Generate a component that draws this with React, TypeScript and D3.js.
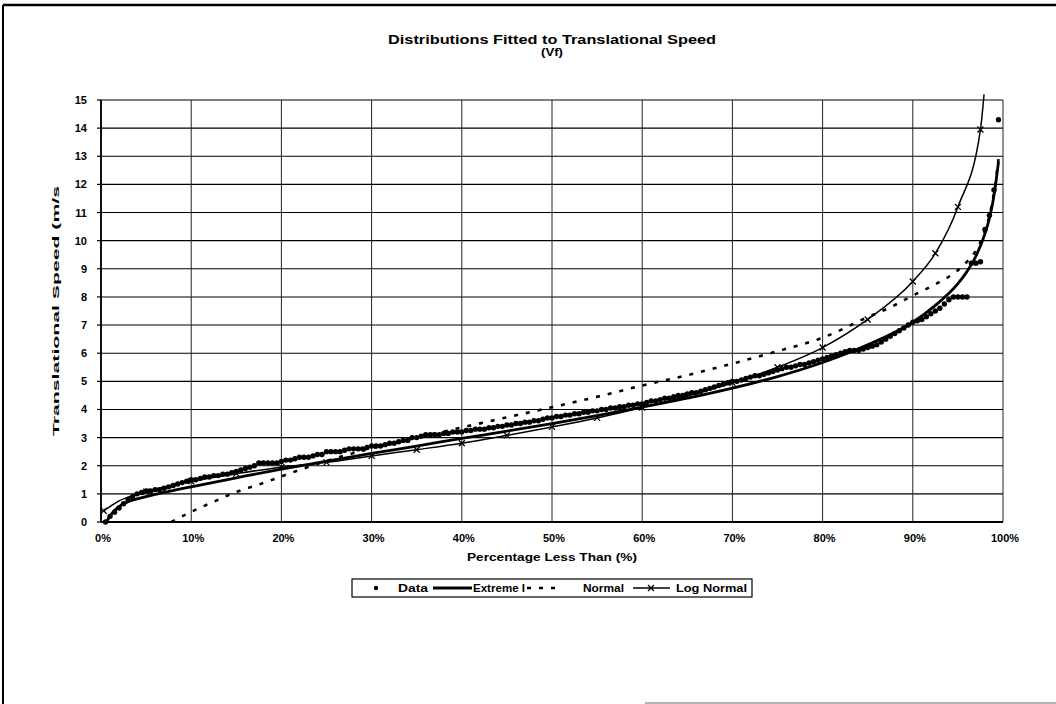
import React from "react";
import * as d3 from "d3";

// Empirical distribution of translational speed: [percentage less than, speed m/s]
const observed: [number, number][] = [
  [0.5, 0.0], [1, 0.2], [1.5, 0.35], [2, 0.5], [2.5, 0.65], [3, 0.8], [3.5, 0.9], [4, 1.0], [4.5, 1.05], [5, 1.1],
  [5.5, 1.1], [6, 1.15], [6.5, 1.15], [7, 1.2], [7.5, 1.25], [8, 1.3], [8.5, 1.35], [9, 1.4], [9.5, 1.45], [10, 1.5],
  [10.5, 1.5], [11, 1.55], [11.5, 1.6], [12, 1.6], [12.5, 1.65], [13, 1.65], [13.5, 1.7], [14, 1.7], [14.5, 1.75], [15, 1.8],
  [15.5, 1.85], [16, 1.9], [16.5, 1.95], [17, 2.0], [17.5, 2.1], [18, 2.1], [18.5, 2.1], [19, 2.1], [19.5, 2.1], [20, 2.15],
  [20.5, 2.2], [21, 2.2], [21.5, 2.25], [22, 2.3], [22.5, 2.3], [23, 2.3], [23.5, 2.35], [24, 2.4], [24.5, 2.4], [25, 2.5],
  [25.5, 2.5], [26, 2.5], [26.5, 2.5], [27, 2.55], [27.5, 2.6], [28, 2.6], [28.5, 2.6], [29, 2.6], [29.5, 2.65], [30, 2.7],
  [30.5, 2.7], [31, 2.7], [31.5, 2.75], [32, 2.8], [32.5, 2.8], [33, 2.85], [33.5, 2.9], [34, 2.9], [34.5, 3.0], [35, 3.0],
  [35.5, 3.05], [36, 3.1], [36.5, 3.1], [37, 3.1], [37.5, 3.1], [38, 3.15], [38.5, 3.15], [39, 3.2], [39.5, 3.2], [40, 3.2],
  [40.5, 3.25], [41, 3.25], [41.5, 3.3], [42, 3.3], [42.5, 3.3], [43, 3.35], [43.5, 3.35], [44, 3.4], [44.5, 3.4], [45, 3.45],
  [45.5, 3.45], [46, 3.5], [46.5, 3.5], [47, 3.55], [47.5, 3.55], [48, 3.6], [48.5, 3.6], [49, 3.65], [49.5, 3.7], [50, 3.7],
  [50.5, 3.75], [51, 3.75], [51.5, 3.8], [52, 3.8], [52.5, 3.85], [53, 3.85], [53.5, 3.9], [54, 3.9], [54.5, 3.95], [55, 3.95],
  [55.5, 4.0], [56, 4.0], [56.5, 4.05], [57, 4.05], [57.5, 4.1], [58, 4.1], [58.5, 4.15], [59, 4.15], [59.5, 4.2], [60, 4.2],
  [60.5, 4.25], [61, 4.3], [61.5, 4.3], [62, 4.35], [62.5, 4.4], [63, 4.4], [63.5, 4.45], [64, 4.5], [64.5, 4.5], [65, 4.55],
  [65.5, 4.6], [66, 4.6], [66.5, 4.65], [67, 4.7], [67.5, 4.75], [68, 4.8], [68.5, 4.85], [69, 4.9], [69.5, 4.95], [70, 5.0],
  [70.5, 5.0], [71, 5.05], [71.5, 5.1], [72, 5.15], [72.5, 5.2], [73, 5.2], [73.5, 5.25], [74, 5.3], [74.5, 5.35], [75, 5.4],
  [75.5, 5.45], [76, 5.5], [76.5, 5.5], [77, 5.55], [77.5, 5.6], [78, 5.6], [78.5, 5.65], [79, 5.7], [79.5, 5.75], [80, 5.8],
  [80.5, 5.85], [81, 5.9], [81.5, 5.95], [82, 6.0], [82.5, 6.05], [83, 6.1], [83.5, 6.1], [84, 6.1], [84.5, 6.15], [85, 6.2],
  [85.5, 6.25], [86, 6.3], [86.5, 6.4], [87, 6.5], [87.5, 6.6], [88, 6.7], [88.5, 6.8], [89, 6.9], [89.5, 7.0], [90, 7.1],
  [90.5, 7.15], [91, 7.2], [91.5, 7.3], [92, 7.4], [92.5, 7.5], [93, 7.6], [93.5, 7.75], [94, 7.9], [94.5, 8.0], [95, 8.0],
  [95.5, 8.0], [96, 8.0], [96.5, 9.2], [97, 9.2], [97.5, 9.25], [98, 10.4], [98.5, 10.9], [99, 11.8], [99.5, 14.3],
];

// Fitted Extreme Type I (Gumbel) curve
const extremePct = [0.6, 1.2, 2, 3, 5, 7, 10, 15, 20, 25, 30, 35, 40, 45, 50, 55, 60, 65, 70, 75, 80, 85, 90, 92.5, 95, 96, 97, 98, 98.5, 99, 99.5];
const extremeVal = [0.0, 0.3, 0.55, 0.72, 0.9, 1.05, 1.25, 1.57, 1.88, 2.16, 2.44, 2.7, 2.97, 3.23, 3.5, 3.78, 4.08, 4.4, 4.76, 5.17, 5.67, 6.3, 7.1, 7.7, 8.47, 8.9, 9.45, 10.25, 10.8, 11.6, 12.8];

// Fitted Normal curve
const normalPct = [7.8, 10, 12.5, 15, 17.5, 20, 25, 30, 35, 40, 45, 50, 55, 60, 65, 70, 75, 80, 85, 87.5, 90, 92.5, 95, 96, 97, 98, 98.5, 99, 99.5];
const normalVal = [0.0, 0.36, 0.72, 1.07, 1.33, 1.62, 2.17, 2.62, 3.0, 3.36, 3.72, 4.08, 4.45, 4.85, 5.22, 5.63, 6.07, 6.55, 7.28, 7.63, 8.05, 8.45, 8.95, 9.25, 9.65, 10.35, 10.9, 11.7, 12.9];

// Fitted Log Normal curve
const logNormalPct = [0.3, 1, 2, 3, 5, 7.5, 10, 15, 20, 25, 30, 35, 40, 45, 50, 55, 60, 65, 70, 75, 80, 85, 90, 92.5, 95, 97.5, 97.9];
const logNormalVal = [0.4, 0.55, 0.75, 0.88, 1.08, 1.28, 1.45, 1.72, 1.95, 2.12, 2.35, 2.57, 2.8, 3.08, 3.38, 3.7, 4.07, 4.48, 4.95, 5.5, 6.2, 7.2, 8.55, 9.55, 11.2, 13.95, 15.2];
// Percentages at which the Log Normal curve carries an "x" marker
const logNormalMarks = [0.3, 5, 10, 15, 20, 25, 30, 35, 40, 45, 50, 55, 60, 65, 70, 75, 80, 85, 90, 92.5, 95, 97.5];

const xTicks = [0, 10, 20, 30, 40, 50, 60, 70, 80, 90, 100];
const yTicks = [0, 1, 2, 3, 4, 5, 6, 7, 8, 9, 10, 11, 12, 13, 14, 15];

const titleLines = ["Distributions Fitted to Translational Speed", "(Vf)"];
const xTitle = "Percentage Less Than (%)";
const yTitle = "Translational Speed (m/s";
const legendLabels = ["Data", "Extreme I", "Normal", "Log Normal"];

const FONT = "'Liberation Sans', Arial, sans-serif";

export default function App() {
  const W = 1056;
  const H = 704;
  const x = d3.scaleLinear().domain([0, 100]).range([101, 1003]);
  const y = d3.scaleLinear().domain([0, 15]).range([522, 100]);

  const curve = (pct: number[], val: number[]) =>
    d3
      .line<number>()
      .x((_, i) => x(pct[i]))
      .y((_, i) => y(val[i]))
      .curve(d3.curveMonotoneX)(val) || "";

  const lnInterp = (p: number) => {
    for (let i = 0; i < logNormalPct.length - 1; i++) {
      if (p >= logNormalPct[i] && p <= logNormalPct[i + 1]) {
        const t = (p - logNormalPct[i]) / (logNormalPct[i + 1] - logNormalPct[i]);
        return logNormalVal[i] + t * (logNormalVal[i + 1] - logNormalVal[i]);
      }
    }
    return logNormalVal[logNormalVal.length - 1];
  };

  const cross = (cx: number, cy: number, s: number, key: string) => (
    <path
      key={key}
      d={`M${cx - s},${cy - s}L${cx + s},${cy + s}M${cx - s},${cy + s}L${cx + s},${cy - s}`}
      stroke="#000"
      strokeWidth={1.3}
    />
  );

  // legend geometry
  const lgY = 588;
  const lgText = { fontSize: 10.5, fontWeight: "bold" as const, lengthAdjust: "spacingAndGlyphs" as const };

  return (
    <svg
      width={W}
      height={H}
      style={{ position: "absolute", left: 0, top: 0, background: "#fff" }}
      fontFamily={FONT}
    >
      <rect x={0} y={0} width={W} height={H} fill="#fff" />
      {/* outer frame */}
      <line x1={3} y1={5} x2={W} y2={5} stroke="#000" strokeWidth={2.5} />
      <line x1={3} y1={5} x2={3} y2={H} stroke="#000" strokeWidth={2} />
      <line x1={645} y1={703} x2={W} y2={703} stroke="#999" strokeWidth={1.5} />

      {/* title */}
      <text x={552} y={44} textAnchor="middle" fontSize={12.5} fontWeight="bold" textLength={328} lengthAdjust="spacingAndGlyphs">
        {titleLines[0]}
      </text>
      <text x={552} y={56} textAnchor="middle" fontSize={11} fontWeight="bold" textLength={22} lengthAdjust="spacingAndGlyphs">
        {titleLines[1]}
      </text>

      {/* horizontal gridlines */}
      {yTicks.map((t) => (
        <line key={"gy" + t} x1={x(0)} x2={x(100)} y1={y(t)} y2={y(t)} stroke="#000" strokeWidth={1.1} />
      ))}
      {/* vertical gridlines */}
      {xTicks.map((t) => (
        <line key={"gx" + t} x1={x(t)} x2={x(t)} y1={y(0)} y2={y(15)} stroke="#222" strokeWidth={1} />
      ))}
      {/* axes */}
      <line x1={x(0)} x2={x(0)} y1={y(0)} y2={y(15)} stroke="#000" strokeWidth={1.8} />
      <line x1={x(0)} x2={x(100)} y1={y(0)} y2={y(0)} stroke="#000" strokeWidth={2} />
      {yTicks.map((t) => (
        <line key={"ty" + t} x1={x(0) - 4} x2={x(0)} y1={y(t)} y2={y(t)} stroke="#000" strokeWidth={1.2} />
      ))}

      {/* y tick labels */}
      {yTicks.map((t) => (
        <text key={"ly" + t} x={87} y={y(t) + 4} textAnchor="end" fontSize={11} fontWeight="bold">
          {t}
        </text>
      ))}
      {/* x tick labels */}
      {xTicks.map((t) => (
        <text key={"lx" + t} x={x(t) + 2} y={542} textAnchor="middle" fontSize={11} fontWeight="bold">
          {t + "%"}
        </text>
      ))}
      <text x={552} y={561} textAnchor="middle" fontSize={11} fontWeight="bold" textLength={170} lengthAdjust="spacingAndGlyphs">
        {xTitle}
      </text>
      <text
        transform={`translate(59,${(y(0) + y(15)) / 2}) rotate(-90)`}
        textAnchor="middle"
        fontSize={9.5}
        fontWeight="bold"
        textLength={250}
        lengthAdjust="spacingAndGlyphs"
      >
        {yTitle}
      </text>

      {/* Normal fit, dashed */}
      <path d={curve(normalPct, normalVal)} fill="none" stroke="#000" strokeWidth={2.6} strokeDasharray="4 8" />
      {/* Log Normal fit */}
      <path d={curve(logNormalPct, logNormalVal)} fill="none" stroke="#000" strokeWidth={1.5} />
      {logNormalMarks.map((p, i) => cross(x(p), y(lnInterp(p)), 3, "lm" + i))}
      {/* Extreme I fit */}
      <path d={curve(extremePct, extremeVal)} fill="none" stroke="#000" strokeWidth={2.8} />
      {/* observed data */}
      {observed.map(([p, v], i) => (
        <circle key={"d" + i} cx={x(p)} cy={y(v)} r={2.7} fill="#000" />
      ))}

      {/* legend */}
      <rect x={352} y={579} width={400} height={18} fill="#fff" stroke="#000" strokeWidth={1.2} />
      <circle cx={376} cy={lgY} r={2.2} fill="#000" />
      <text x={398} y={lgY + 4} textLength={30} {...lgText}>{legendLabels[0]}</text>
      <line x1={433} x2={472} y1={lgY} y2={lgY} stroke="#000" strokeWidth={2.8} />
      <text x={473} y={lgY + 4} textLength={52} {...lgText}>{legendLabels[1]}</text>
      <line x1={527} x2={560} y1={lgY} y2={lgY} stroke="#000" strokeWidth={2.6} strokeDasharray="4 8" />
      <text x={583} y={lgY + 4} textLength={41} {...lgText}>{legendLabels[2]}</text>
      <line x1={633} x2={670} y1={lgY} y2={lgY} stroke="#000" strokeWidth={1.5} />
      {cross(651, lgY, 3, "lgx")}
      <text x={676} y={lgY + 4} textLength={71} {...lgText}>{legendLabels[3]}</text>
    </svg>
  );
}
